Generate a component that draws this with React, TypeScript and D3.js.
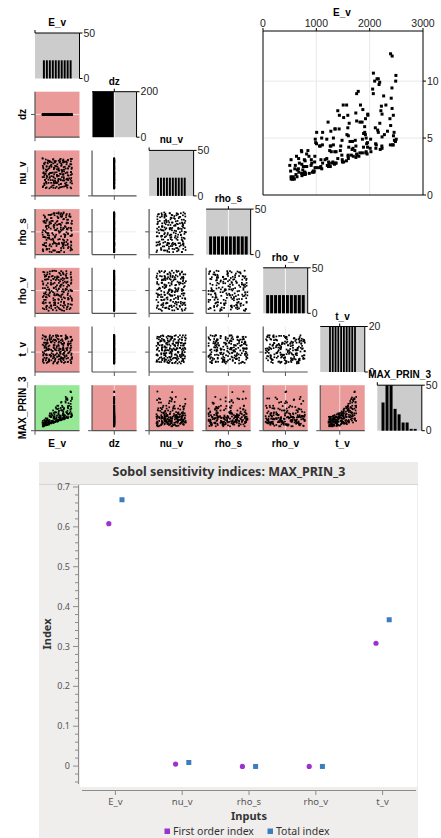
import React, { useRef, useEffect } from 'react';
import * as d3 from 'd3';

const width = 441;
const height = 838;

const variables = ['E_v', 'dz', 'nu_v', 'rho_s', 'rho_v', 't_v', 'MAX_PRIN_3'];

// 200 samples, one entry per run
const E_v = [
  528, 730, 1084, 1230, 1370, 1678, 1858, 1964, 2176, 2392,
  552, 786, 976, 1164, 1458, 1600, 1756, 2068, 2138, 2442,
  638, 778, 1086, 1250, 1320, 1616, 1740, 2094, 2198, 2388,
  618, 746, 914, 1262, 1428, 1512, 1756, 2024, 2116, 2498,
  672, 756, 906, 1196, 1350, 1568, 1742, 1934, 2112, 2458,
  664, 728, 1060, 1272, 1402, 1564, 1864, 1960, 2232, 2394,
  518, 776, 988, 1220, 1490, 1600, 1816, 1944, 2162, 2444,
  606, 818, 980, 1262, 1356, 1596, 1722, 1934, 2190, 2304,
  668, 720, 954, 1102, 1486, 1670, 1742, 1920, 2210, 2418,
  628, 792, 944, 1288, 1478, 1608, 1886, 1906, 2262, 2492,
  588, 756, 1062, 1118, 1450, 1632, 1818, 1966, 2188, 2422,
  556, 794, 1012, 1196, 1346, 1574, 1872, 2056, 2162, 2430,
  554, 724, 902, 1280, 1482, 1590, 1828, 2070, 2232, 2484,
  568, 820, 968, 1272, 1320, 1590, 1786, 1952, 2228, 2464,
  526, 778, 972, 1114, 1352, 1504, 1798, 1928, 2124, 2446,
  644, 790, 1074, 1100, 1432, 1512, 1762, 2010, 2276, 2334,
  596, 862, 1004, 1118, 1340, 1692, 1756, 1958, 2150, 2380,
  682, 842, 1006, 1228, 1372, 1656, 1884, 2018, 2106, 2420,
  502, 726, 960, 1206, 1310, 1596, 1864, 1908, 2232, 2404,
  526, 868, 928, 1238, 1402, 1688, 1730, 1922, 2220, 2488,
];

// dz was held constant in every run
const DZ = 0.0995;

const nu_v = [
  0.158, 0.152, 0.158, 0.154, 0.152, 0.156, 0.160, 0.162, 0.154, 0.156,
  0.164, 0.156, 0.150, 0.168, 0.160, 0.150, 0.158, 0.166, 0.166, 0.150,
  0.172, 0.182, 0.186, 0.186, 0.184, 0.174, 0.178, 0.174, 0.170, 0.188,
  0.182, 0.188, 0.186, 0.170, 0.184, 0.186, 0.180, 0.182, 0.188, 0.182,
  0.204, 0.192, 0.206, 0.204, 0.200, 0.196, 0.204, 0.202, 0.208, 0.198,
  0.206, 0.190, 0.204, 0.196, 0.192, 0.204, 0.202, 0.202, 0.204, 0.208,
  0.224, 0.216, 0.224, 0.228, 0.228, 0.210, 0.224, 0.216, 0.214, 0.218,
  0.224, 0.226, 0.218, 0.222, 0.214, 0.212, 0.210, 0.224, 0.210, 0.216,
  0.246, 0.246, 0.240, 0.230, 0.236, 0.246, 0.244, 0.240, 0.236, 0.238,
  0.236, 0.234, 0.244, 0.242, 0.238, 0.232, 0.240, 0.244, 0.234, 0.244,
  0.256, 0.260, 0.250, 0.252, 0.256, 0.266, 0.258, 0.262, 0.254, 0.256,
  0.250, 0.268, 0.252, 0.254, 0.254, 0.268, 0.264, 0.250, 0.254, 0.258,
  0.288, 0.274, 0.278, 0.286, 0.276, 0.282, 0.270, 0.280, 0.280, 0.286,
  0.280, 0.270, 0.284, 0.276, 0.284, 0.274, 0.272, 0.274, 0.282, 0.278,
  0.298, 0.292, 0.294, 0.292, 0.298, 0.308, 0.304, 0.290, 0.308, 0.308,
  0.308, 0.296, 0.300, 0.306, 0.296, 0.292, 0.298, 0.292, 0.296, 0.294,
  0.314, 0.314, 0.322, 0.322, 0.320, 0.328, 0.314, 0.324, 0.320, 0.310,
  0.320, 0.320, 0.328, 0.314, 0.324, 0.320, 0.320, 0.324, 0.328, 0.328,
  0.348, 0.340, 0.330, 0.340, 0.330, 0.332, 0.332, 0.340, 0.334, 0.344,
  0.346, 0.334, 0.330, 0.342, 0.330, 0.340, 0.344, 0.332, 0.338, 0.344,
];

const rho_s = [
  1872, 1996, 2084, 1816, 1956, 2076, 2172, 1896, 2032, 2152,
  2016, 2124, 1864, 1988, 2100, 1800, 1956, 2048, 2176, 1896,
  2108, 1824, 1924, 2056, 2184, 1880, 2024, 2144, 1872, 1960,
  1952, 2048, 2168, 1904, 2016, 2152, 1840, 1960, 2084, 1824,
  2152, 1856, 1988, 2108, 1816, 1924, 2044, 2192, 1900, 2012,
  1948, 2056, 2168, 1892, 2016, 2140, 1856, 1976, 2088, 1816,
  1972, 2108, 1804, 1920, 2068, 2180, 1892, 2036, 2120, 1868,
  1868, 1988, 2096, 1816, 1956, 2076, 2168, 1880, 2024, 2156,
  2140, 1860, 1964, 2108, 1800, 1928, 2068, 2184, 1884, 2032,
  2092, 1832, 1944, 2040, 2184, 1888, 2024, 2124, 1852, 1972,
  2164, 1892, 2032, 2136, 1860, 1992, 2092, 1800, 1920, 2040,
  1948, 2060, 2168, 1880, 2016, 2136, 1876, 1972, 2092, 1832,
  1808, 1944, 2060, 2184, 1880, 2008, 2156, 1868, 1984, 2080,
  2104, 1828, 1932, 2068, 2164, 1884, 2012, 2128, 1840, 1960,
  1828, 1920, 2076, 2172, 1888, 2032, 2148, 1840, 1996, 2084,
  1888, 2028, 2136, 1856, 1972, 2108, 1816, 1948, 2040, 2176,
  1868, 1968, 2092, 1800, 1944, 2076, 2184, 1916, 2028, 2148,
  2008, 2120, 1876, 1972, 2084, 1800, 1924, 2056, 2164, 1904,
  1996, 2088, 1832, 1932, 2064, 2192, 1884, 2036, 2120, 1848,
  1820, 1940, 2044, 2180, 1884, 2000, 2152, 1864, 1980, 2108,
];

const rho_v = [
  2436, 2644, 2352, 2568, 2328, 2668, 2464, 2384, 2584, 2508,
  2560, 2348, 2472, 2692, 2456, 2408, 2612, 2516, 2316, 2628,
  2680, 2460, 2600, 2404, 2576, 2520, 2312, 2644, 2456, 2364,
  2408, 2608, 2300, 2528, 2692, 2640, 2436, 2356, 2576, 2496,
  2524, 2336, 2456, 2644, 2408, 2376, 2556, 2484, 2692, 2604,
  2636, 2436, 2560, 2356, 2536, 2460, 2680, 2616, 2412, 2328,
  2376, 2552, 2664, 2484, 2632, 2604, 2412, 2332, 2536, 2428,
  2472, 2660, 2380, 2616, 2372, 2328, 2536, 2432, 2624, 2548,
  2608, 2408, 2512, 2324, 2464, 2448, 2652, 2548, 2344, 2680,
  2316, 2508, 2636, 2456, 2616, 2576, 2348, 2668, 2496, 2400,
  2448, 2644, 2352, 2560, 2304, 2676, 2492, 2388, 2588, 2500,
  2572, 2348, 2484, 2696, 2452, 2416, 2600, 2504, 2336, 2632,
  2684, 2484, 2612, 2380, 2552, 2512, 2304, 2652, 2428, 2360,
  2388, 2612, 2332, 2524, 2696, 2632, 2456, 2372, 2556, 2496,
  2524, 2316, 2444, 2640, 2384, 2340, 2560, 2492, 2668, 2580,
  2656, 2432, 2576, 2348, 2512, 2496, 2692, 2588, 2416, 2316,
  2372, 2572, 2688, 2496, 2632, 2592, 2388, 2300, 2512, 2444,
  2468, 2680, 2380, 2616, 2356, 2316, 2512, 2424, 2624, 2568,
  2592, 2380, 2504, 2308, 2472, 2452, 2624, 2576, 2368, 2660,
  2324, 2532, 2636, 2424, 2604, 2544, 2356, 2660, 2472, 2416,
];

const t_v = [
  0.57, 0.61, 0.78, 0.82, 0.98, 1.01, 1.18, 1.22, 1.38, 1.44,
  0.65, 0.79, 0.80, 0.94, 1.05, 1.12, 1.23, 1.35, 1.43, 0.56,
  0.70, 0.82, 0.98, 1.07, 1.14, 1.27, 1.31, 1.43, 0.55, 0.62,
  0.86, 0.96, 1.02, 1.14, 1.29, 1.37, 1.47, 0.55, 0.67, 0.72,
  0.94, 1.07, 1.10, 1.29, 1.33, 1.46, 0.59, 0.69, 0.79, 0.85,
  1.09, 1.15, 1.27, 1.34, 1.49, 0.56, 0.66, 0.79, 0.86, 0.97,
  1.16, 1.22, 1.37, 1.47, 0.52, 0.64, 0.70, 0.87, 0.96, 1.06,
  1.23, 1.30, 1.43, 0.55, 0.63, 0.75, 0.84, 0.97, 1.05, 1.19,
  1.34, 1.45, 0.57, 0.61, 0.73, 0.88, 0.92, 1.01, 1.17, 1.28,
  1.45, 0.52, 0.65, 0.71, 0.86, 0.96, 1.04, 1.12, 1.27, 1.34,
  0.52, 0.67, 0.74, 0.86, 0.96, 1.03, 1.19, 1.21, 1.39, 1.43,
  0.62, 0.70, 0.80, 0.93, 1.00, 1.15, 1.29, 1.39, 1.42, 0.51,
  0.78, 0.81, 0.97, 1.04, 1.11, 1.23, 1.35, 1.49, 0.56, 0.66,
  0.82, 0.99, 1.00, 1.14, 1.23, 1.35, 1.47, 0.52, 0.69, 0.70,
  0.90, 1.03, 1.13, 1.24, 1.32, 1.49, 0.55, 0.62, 0.76, 0.80,
  1.05, 1.19, 1.25, 1.36, 1.43, 0.50, 0.67, 0.73, 0.88, 0.91,
  1.13, 1.22, 1.33, 1.42, 0.58, 0.66, 0.72, 0.87, 0.99, 1.04,
  1.23, 1.34, 1.49, 0.50, 0.67, 0.76, 0.83, 0.92, 1.03, 1.13,
  1.38, 1.42, 0.59, 0.68, 0.78, 0.80, 0.97, 1.05, 1.13, 1.21,
  1.49, 0.55, 0.62, 0.75, 0.81, 0.90, 1.01, 1.19, 1.20, 1.31,
];

const MAX_PRIN_3 = [
  1.4, 1.7, 2.5, 2.9, 3.8, 4.7, 6.4, 7.1, 9.7, 12.4,
  1.4, 2.0, 2.4, 3.1, 4.3, 5.2, 6.5, 8.9, 10.2, 4.4,
  1.6, 2.0, 3.1, 3.9, 4.4, 6.3, 7.2, 10.0, 4.0, 4.4,
  1.8, 2.2, 2.8, 4.3, 5.8, 6.8, 8.9, 3.8, 4.1, 4.9,
  2.0, 2.5, 3.1, 4.9, 5.8, 7.9, 3.3, 3.8, 4.5, 5.5,
  2.3, 2.7, 4.3, 5.6, 7.4, 3.0, 3.7, 4.2, 5.1, 6.1,
  2.1, 3.1, 4.6, 6.4, 2.9, 3.2, 3.7, 4.5, 5.5, 7.0,
  2.6, 3.6, 4.9, 2.5, 2.8, 3.4, 3.9, 5.0, 6.3, 7.9,
  3.2, 3.9, 2.0, 2.3, 3.1, 4.0, 4.3, 5.3, 7.4, 9.4,
  3.4, 1.8, 2.1, 2.8, 3.5, 4.2, 5.4, 6.0, 8.7, 10.5,
  1.4, 1.8, 2.4, 2.8, 3.9, 4.7, 6.4, 7.0, 9.9, 12.2,
  1.4, 1.9, 2.4, 3.2, 3.8, 5.3, 7.5, 9.3, 10.2, 4.4,
  1.5, 1.9, 2.6, 3.8, 4.8, 5.9, 7.9, 10.7, 4.1, 4.7,
  1.6, 2.5, 2.9, 4.3, 5.0, 7.0, 9.1, 3.6, 4.3, 4.8,
  1.6, 2.5, 3.4, 4.4, 5.8, 7.9, 3.4, 3.7, 4.4, 5.2,
  2.2, 3.0, 4.3, 5.0, 7.0, 2.9, 3.5, 4.1, 5.3, 5.6,
  2.3, 3.4, 4.5, 5.5, 2.7, 3.4, 3.6, 4.6, 5.7, 6.7,
  2.8, 3.9, 5.5, 2.5, 2.8, 3.5, 4.2, 4.9, 5.9, 7.6,
  2.6, 3.8, 2.1, 2.6, 2.9, 3.5, 4.9, 5.5, 7.1, 8.5,
  3.1, 1.9, 2.0, 2.7, 3.2, 4.1, 4.8, 6.7, 7.8, 10.0,
];

// small-cell axes: domain and the one tick drawn on each
const cellDomains = [[0, 3000], [0, 0.2], [0.1, 0.4], [1775, 2225], [2275, 2725], [0.2, 1.8], [0, 14.4]];
const cellTicks = [0, 0.1, 0.1, 2000, 2500, 0.9, 0];
// histogram bins [lo, hi, count] and count-axis max
const histBins = [[500, 2500, 10], [0, 0.2, 2], [0.15, 0.35, 10], [1800, 2200, 10], [2300, 2700, 10], [0.5, 1.5, 10], [1.2, 12.9, 9]];
const histMax = [50, 200, 50, 50, 50, 20, 50];

// big scatter ticks
const bigXTicks = [0, 1000, 2000, 3000];
const bigYTicks = [0, 5, 10];

// Sobol indices
const inputs = ['E_v', 'nu_v', 'rho_s', 'rho_v', 't_v'];
const firstOrder = [0.608, 0.005, -0.001, -0.001, 0.308];
const totalIndex = [0.668, 0.009, -0.001, -0.001, 0.367];
const sobolTicks = [0, 0.1, 0.2, 0.3, 0.4, 0.5, 0.6, 0.7];
const seriesNames = ['First order index', 'Total index'];

const matrixFont = '"Liberation Sans", Arial, sans-serif';
const chartFont = '"Noto Sans", "Open Sans", sans-serif';
const pink = '#eb9a9a';
const green = '#96e796';
const purple = '#9b34cf';
const blue = '#3d7dbd';

const CW = 44.5;
const CH = 45.5;
const cellX = (c) => 35 + 57.05 * c;
const cellY = (r) => 33 + 58.7 * r;

function line(g, x1, y1, x2, y2, stroke, w = 1) {
  return g.append('line')
    .attr('x1', x1).attr('y1', y1).attr('x2', x2).attr('y2', y2)
    .attr('stroke', stroke).attr('stroke-width', w);
}

function drawMatrix(svg) {
  const columns = [E_v, E_v.map(() => DZ), nu_v, rho_s, rho_v, t_v, MAX_PRIN_3];
  const n = E_v.length;

  variables.forEach((rowName, r) => {
    variables.forEach((colName, c) => {
      if (c > r) return;
      const x0 = cellX(c);
      const y0 = cellY(r);
      const xs = d3.scaleLinear().domain(cellDomains[c]).range([x0, x0 + CW]);
      const tx = xs(cellTicks[c]);
      const g = svg.append('g');

      if (r === c) {
        // histogram on the diagonal
        const [lo, hi, nb] = histBins[c];
        const step = (hi - lo) / nb;
        const thresholds = d3.range(1, nb).map(i => lo + i * step - step * 1e-6);
        const bins = d3.bin().domain([lo, hi]).thresholds(thresholds)(columns[c]);
        const hs = d3.scaleLinear().domain([0, histMax[c]]).range([y0 + CH, y0]);

        g.append('rect').attr('x', x0).attr('y', y0).attr('width', CW).attr('height', CH).attr('fill', '#cccccc');
        if (tx > x0 + 1 && tx < x0 + CW - 1) line(g, tx, y0, tx, y0 + CH, '#f4f4f4', 1);
        g.selectAll('rect.bar').data(bins).enter().append('rect')
          .attr('class', 'bar')
          .attr('x', d => xs(d.x0) + 0.5)
          .attr('width', d => Math.max(0.5, xs(d.x1) - xs(d.x0) - 1))
          .attr('y', d => hs(Math.min(d.length, histMax[c])))
          .attr('height', d => y0 + CH - hs(Math.min(d.length, histMax[c])))
          .attr('fill', '#000');

        line(g, x0, y0, x0 + CW, y0, '#000', 1);
        line(g, tx, y0, tx, y0 - 3, '#000', 1);
        line(g, x0 + CW, y0, x0 + CW, y0 + CH, '#000', 1);
        [0, histMax[c]].forEach(v => {
          line(g, x0 + CW, hs(v), x0 + CW + 3, hs(v), '#000', 1);
          g.append('text')
            .attr('x', x0 + CW + 4).attr('y', hs(v)).attr('dy', '0.36em')
            .attr('font-family', matrixFont).attr('font-size', 10.5).attr('fill', '#222')
            .text(v);
        });
        g.append('text')
          .attr('x', x0 + CW / 2).attr('y', y0 - 7)
          .attr('text-anchor', 'middle')
          .attr('font-family', matrixFont).attr('font-size', 10).attr('font-weight', 'bold')
          .text(colName);
      } else {
        // scatter below the diagonal
        const ys = d3.scaleLinear().domain(cellDomains[r]).range([y0 + CH, y0]);
        const ty = ys(cellTicks[r]);
        const bg = r === 6 && c === 0 ? green : (c === 0 || r === 6) ? pink : '#ffffff';
        const grid = bg === '#ffffff' ? '#ececec' : 'rgba(255,255,255,0.6)';

        g.append('rect').attr('x', x0).attr('y', y0).attr('width', CW).attr('height', CH).attr('fill', bg);
        if (tx > x0 + 1 && tx < x0 + CW - 1) line(g, tx, y0, tx, y0 + CH, grid, 1);
        if (ty > y0 + 1 && ty < y0 + CH - 1) line(g, x0, ty, x0 + CW, ty, grid, 1);

        g.selectAll('rect.pt').data(d3.range(n)).enter().append('rect')
          .attr('class', 'pt')
          .attr('x', i => xs(columns[c][i]) - 0.85)
          .attr('y', i => ys(columns[r][i]) - 0.85)
          .attr('width', 1.7).attr('height', 1.7)
          .attr('fill', '#000');

        line(g, x0, y0, x0, y0 + CH, '#555', 1.2);
        line(g, x0, y0 + CH, x0 + CW, y0 + CH, '#555', 1.2);
        line(g, x0 - 4, ty, x0, ty, '#555', 1);
        line(g, tx, y0 + CH, tx, y0 + CH + 4, '#555', 1);
      }
    });
  });

  // row labels on the left
  variables.forEach((name, r) => {
    if (r === 0) return;
    svg.append('text')
      .attr('transform', `translate(26,${cellY(r) + CH / 2}) rotate(-90)`)
      .attr('text-anchor', 'middle')
      .attr('font-family', matrixFont).attr('font-size', 10).attr('font-weight', 'bold')
      .text(name);
  });
  // column labels under the last row
  variables.forEach((name, c) => {
    if (c === 6) return;
    svg.append('text')
      .attr('x', cellX(c) + CW / 2).attr('y', 447)
      .attr('text-anchor', 'middle')
      .attr('font-family', matrixFont).attr('font-size', 10).attr('font-weight', 'bold')
      .text(name);
  });
}

function drawBigScatter(svg) {
  const x = d3.scaleLinear().domain([0, 3000]).range([263, 423]);
  const y = d3.scaleLinear().domain([0, 14.4]).range([195, 31]);
  const g = svg.append('g');

  g.append('rect').attr('x', 263).attr('y', 31).attr('width', 160).attr('height', 164).attr('fill', '#fff');
  bigXTicks.slice(1, -1).forEach(v => line(g, x(v), 31, x(v), 195, '#e8e8e8', 1));
  bigYTicks.slice(1).forEach(v => line(g, 263, y(v), 423, y(v), '#e8e8e8', 1));

  g.selectAll('rect.pt').data(E_v).enter().append('rect')
    .attr('x', (d, i) => x(d) - 1.5)
    .attr('y', (d, i) => y(MAX_PRIN_3[i]) - 1.5)
    .attr('width', 3).attr('height', 3)
    .attr('fill', '#000');

  line(g, 263, 31, 263, 195, '#000', 1);
  line(g, 263, 195, 423, 195, '#000', 1);
  line(g, 263, 31, 423, 31, '#000', 1);
  line(g, 423, 31, 423, 195, '#000', 1);

  bigXTicks.forEach(v => {
    line(g, x(v), 31, x(v), 28, '#000', 1);
    g.append('text')
      .attr('x', x(v)).attr('y', 27)
      .attr('text-anchor', 'middle')
      .attr('font-family', matrixFont).attr('font-size', 10.5).attr('fill', '#222')
      .text(v);
  });
  bigYTicks.forEach(v => {
    line(g, 423, y(v), 426, y(v), '#000', 1);
    g.append('text')
      .attr('x', 427).attr('y', y(v)).attr('dy', '0.36em')
      .attr('font-family', matrixFont).attr('font-size', 10.5).attr('fill', '#222')
      .text(v);
  });
  g.append('text')
    .attr('x', 342).attr('y', 16)
    .attr('text-anchor', 'middle')
    .attr('font-family', matrixFont).attr('font-size', 10).attr('font-weight', 'bold')
    .text('E_v');
}

function drawSobol(svg) {
  const g = svg.append('g');
  const left = 80, right = 417, top = 485, bottom = 787;

  g.append('rect').attr('x', 39).attr('y', 462).attr('width', 379).attr('height', 376).attr('fill', '#efeeec');
  g.append('rect').attr('x', 39).attr('y', 462).attr('width', 379).attr('height', 22).attr('fill', '#edecea');
  line(g, 39, 484.5, 418, 484.5, '#d6d5d3', 1);
  g.append('rect').attr('x', left).attr('y', top).attr('width', right - left).attr('height', bottom - top)
    .attr('fill', '#fff');

  g.append('text')
    .attr('x', 229).attr('y', 476)
    .attr('text-anchor', 'middle')
    .attr('font-family', chartFont).attr('font-size', 12.5).attr('font-weight', 'bold').attr('fill', '#333')
    .text('Sobol sensitivity indices: MAX_PRIN_3');

  const y = d3.scaleLinear().domain([-0.05, 0.705]).range([786, 485]);
  const x = d3.scaleBand().domain(inputs).range([82, 416]);
  const offset = d3.scalePoint().domain(seriesNames).range([-6.6, 6.6]);
  const cx = d => x(d) + x.bandwidth() / 2;

  // y axis
  line(g, 78.5, 485, 78.5, 784, '#8c8c8c', 1);
  d3.range(-2, 36).forEach(i => {
    if (i % 5 === 0) return;
    const v = i * 0.02;
    line(g, 75, y(v), 78.5, y(v), '#8c8c8c', 1);
  });
  sobolTicks.forEach(v => {
    line(g, 73, y(v), 78.5, y(v), '#8c8c8c', 1);
    g.append('text')
      .attr('x', 70).attr('y', y(v)).attr('dy', '0.35em')
      .attr('text-anchor', 'end')
      .attr('font-family', chartFont).attr('font-size', 9).attr('fill', '#555')
      .text(v === 0 ? '0' : v.toFixed(1));
  });
  g.append('text')
    .attr('transform', `translate(51,634) rotate(-90)`)
    .attr('text-anchor', 'middle')
    .attr('font-family', chartFont).attr('font-size', 11).attr('font-weight', 'bold').attr('fill', '#333')
    .text('Index');

  // x axis
  line(g, 82, 790.5, 416, 790.5, '#8c8c8c', 1);
  inputs.forEach(d => {
    line(g, cx(d), 790.5, cx(d), 795, '#8c8c8c', 1);
    g.append('text')
      .attr('x', cx(d)).attr('y', 804.5)
      .attr('text-anchor', 'middle')
      .attr('font-family', chartFont).attr('font-size', 9.5).attr('fill', '#555')
      .text(d);
  });
  g.append('text')
    .attr('x', 249).attr('y', 820)
    .attr('text-anchor', 'middle')
    .attr('font-family', chartFont).attr('font-size', 11).attr('font-weight', 'bold').attr('fill', '#333')
    .text('Inputs');

  // points
  g.selectAll('circle.first').data(inputs).enter().append('circle')
    .attr('cx', d => cx(d) + offset('First order index'))
    .attr('cy', (d, i) => y(firstOrder[i]))
    .attr('r', 2.6)
    .attr('fill', purple);
  g.selectAll('rect.total').data(inputs).enter().append('rect')
    .attr('x', d => cx(d) + offset('Total index') - 2.5)
    .attr('y', (d, i) => y(totalIndex[i]) - 2.5)
    .attr('width', 5).attr('height', 5)
    .attr('fill', blue);

  // legend
  const legendX = [164.5, 267.5];
  seriesNames.forEach((name, i) => {
    g.append('rect')
      .attr('x', legendX[i]).attr('y', 828.5).attr('width', 5.5).attr('height', 5.5)
      .attr('fill', i === 0 ? purple : blue);
    g.append('text')
      .attr('x', legendX[i] + 8.5).attr('y', 835)
      .attr('font-family', chartFont).attr('font-size', 10.5).attr('fill', '#333')
      .text(name);
  });
}

function App() {
  const ref = useRef(null);

  useEffect(() => {
    const svg = d3.select(ref.current);
    svg.selectAll('*').remove();
    drawMatrix(svg);
    drawBigScatter(svg);
    drawSobol(svg);
  }, []);

  return (
    <svg
      ref={ref}
      width={width}
      height={height}
      style={{ position: 'absolute', left: 0, top: 0, display: 'block', background: '#fff' }}
    />
  );
}

export default App;
